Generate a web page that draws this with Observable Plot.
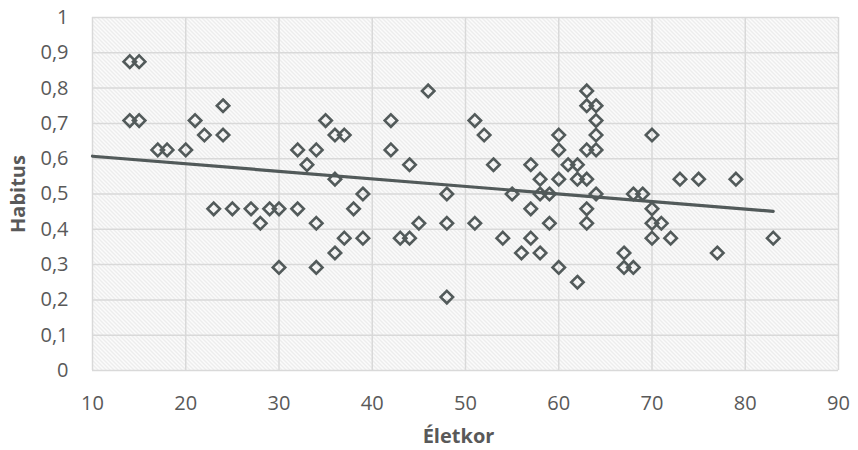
<!DOCTYPE html>
<html>
<head>
<meta charset="utf-8">
<script src="https://cdn.jsdelivr.net/npm/d3@7"></script>
<script src="https://cdn.jsdelivr.net/npm/@observablehq/plot@0.6"></script>
<style>
  html, body { margin: 0; padding: 0; background: #fff; }
  #chart svg { display: block; }
</style>
</head>
<body>
<div id="chart"></div>
<script>
// Data (Életkor = age, Habitus)
const ages = [14,15,14,15,17,18,20,21,22,24,24,23,25,27,28,29,30,30,32,32,33,34,34,34,35,36,37,36,36,37,38,39,39,42,42,43,44,44,45,46,48,48,48,51,52,53,51,54,55,56,57,57,57,58,58,58,59,59,60,60,60,60,61,62,62,62,63,63,63,63,63,63,64,64,64,64,64,67,67,68,68,69,70,70,70,70,71,72,73,75,77,79,83];
const habitus = [0.875,0.875,0.708,0.708,0.625,0.625,0.625,0.708,0.667,0.75,0.667,0.458,0.458,0.458,0.417,0.458,0.458,0.292,0.625,0.458,0.583,0.625,0.417,0.292,0.708,0.667,0.667,0.542,0.333,0.375,0.458,0.5,0.375,0.708,0.625,0.375,0.375,0.583,0.417,0.792,0.5,0.417,0.208,0.708,0.667,0.583,0.417,0.375,0.5,0.333,0.583,0.458,0.375,0.542,0.5,0.333,0.5,0.417,0.667,0.625,0.542,0.292,0.583,0.583,0.542,0.25,0.792,0.75,0.625,0.542,0.458,0.417,0.75,0.708,0.667,0.625,0.5,0.333,0.292,0.5,0.292,0.5,0.667,0.458,0.417,0.375,0.417,0.375,0.542,0.542,0.333,0.542,0.375];
// linear trend line as drawn in the reference (start and end values)
const trendAges = [10, 83];
const trendHabitus = [0.607, 0.451];
const xTicks = [10,20,30,40,50,60,70,80,90];
const xTickLabels = ["10","20","30","40","50","60","70","80","90"];
const yTicks = [0,0.1,0.2,0.3,0.4,0.5,0.6,0.7,0.8,0.9,1];
const yTickLabels = ["0","0,1","0,2","0,3","0,4","0,5","0,6","0,7","0,8","0,9","1"];
const xTitle = "Életkor";
const yTitle = "Habitus";

const points = ages.map((a, i) => ({age: a, hab: habitus[i]}));
const trend = trendAges.map((a, i) => ({age: a, hab: trendHabitus[i]}));

const gridColor = "#d9d9d9";
const ink = "#525a5a";
const textColor = "#595959";
const font = "'Open Sans', 'Noto Sans', sans-serif";

const plot = Plot.plot({
  width: 858,
  height: 450,
  marginLeft: 92,
  marginRight: 20,
  marginTop: 17,
  marginBottom: 80,
  style: {fontFamily: font, fontSize: "20px", color: textColor, background: "#fff"},
  x: {domain: [10, 90]},
  y: {domain: [0, 1]},
  marks: [
    Plot.frame({fill: "url(#hatch)", stroke: "none"}),
    Plot.gridX(xTicks, {stroke: gridColor, strokeOpacity: 1, strokeWidth: 1.5}),
    Plot.gridY(yTicks, {stroke: gridColor, strokeOpacity: 1, strokeWidth: 1.5}),
    Plot.axisX({ticks: xTicks, tickSize: 0, tickPadding: 25, tickFormat: (d, i) => xTickLabels[i], label: null, fill: textColor, fontSize: 20}),
    Plot.axisY({ticks: yTicks, tickSize: 0, tickPadding: 24, tickFormat: (d, i) => yTickLabels[i], label: null, fill: textColor, fontSize: 20}),
    Plot.line(trend, {x: "age", y: "hab", stroke: ink, strokeWidth: 3.2}),
    Plot.dot(points, {x: "age", y: "hab", symbol: "diamond2", r: 5.6, stroke: ink, strokeWidth: 2.6, fill: "none"}),
    Plot.text([xTitle], {frameAnchor: "bottom", textAnchor: "middle", lineAnchor: "middle", dx: -7, dy: 66, fontWeight: "bold", fontSize: 20, fill: textColor}),
    Plot.text([yTitle], {frameAnchor: "left", textAnchor: "middle", lineAnchor: "middle", dx: -74, rotate: -90, fontWeight: "bold", fontSize: 20, fill: textColor})
  ]
});

// hatch pattern for the plotting area
const ns = "http://www.w3.org/2000/svg";
const defs = document.createElementNS(ns, "defs");
defs.innerHTML = `<pattern id="hatch" patternUnits="userSpaceOnUse" width="4" height="4">
  <rect width="4" height="4" fill="#ffffff"/>
  <path d="M-1,-1 L5,5 M3,-1 L5,1 M-1,3 L1,5" stroke="#e2e2e2" stroke-width="1.1"/>
</pattern>`;
plot.insertBefore(defs, plot.firstChild);

document.getElementById("chart").appendChild(plot);
</script>
</body>
</html>
